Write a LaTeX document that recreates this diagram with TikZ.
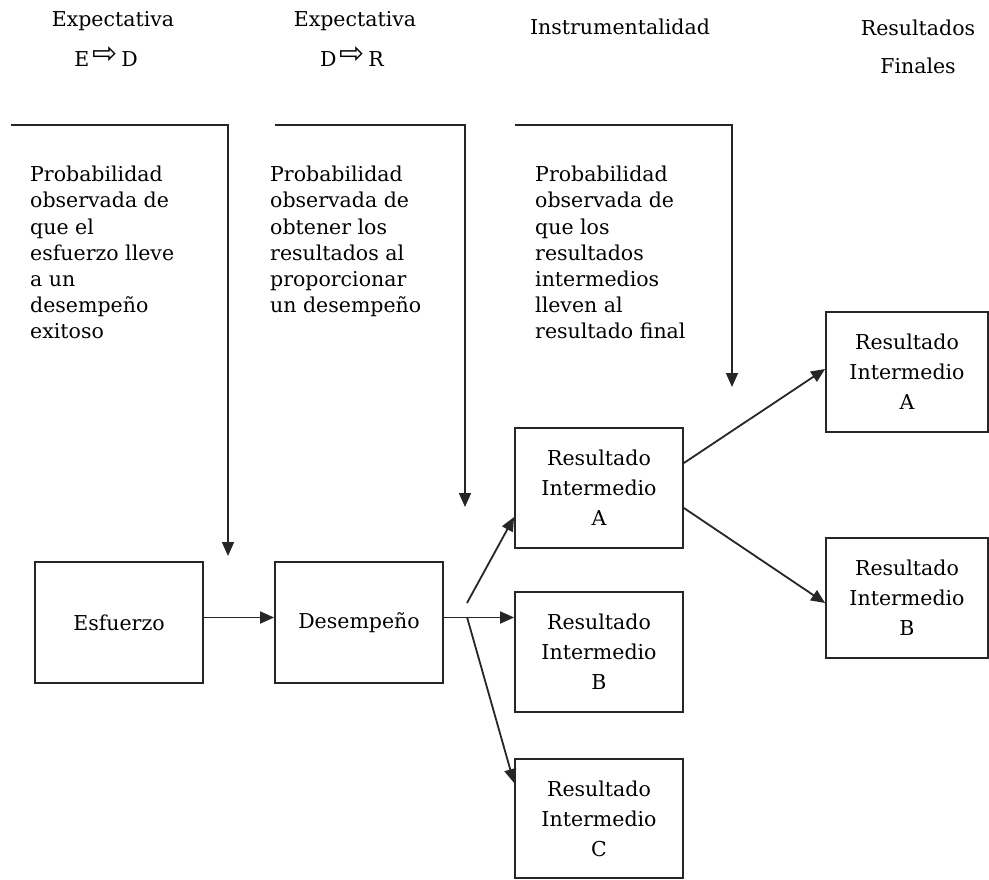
\documentclass[tikz,border=0pt]{standalone}
\usepackage{fontspec}
\setmainfont{DejaVu Serif}
\newfontfamily\symfont{DejaVu Sans}
\usetikzlibrary{arrows.meta}
\definecolor{ink}{gray}{0.15}
\newcommand{\harr}{{\symfont\fontsize{30}{30}\selectfont\raisebox{3pt}{⇨}}}
\begin{document}
\begin{tikzpicture}[x=1pt,y=-1pt,
  every node/.style={font=\fontsize{20.5}{26.2}\selectfont, inner sep=0pt},
  box/.style={draw=ink, line width=1.8pt, minimum width=168pt, minimum height=121pt,
    align=center, font=\fontsize{20.5}{30}\selectfont},
  conn/.style={draw=ink, line width=1.8pt, -{Triangle[length=14pt,width=12pt]}},
  desc/.style={anchor=north west, align=left},
  head/.style={anchor=base, align=center}]
\useasboundingbox (0,0) rectangle (989,880);

% headers
\node[head] (h1a) at (113,27) {Expectativa};
\node[head] (h1b) at (106,67) {E\,\harr\,D};
\node[head] (h2a) at (355,27) {Expectativa};
\node[head] (h2b) at (352,67) {D\,\harr\,R};
\node[head] (h3) at (620,35) {Instrumentalidad};
\node[head] (h4a) at (918,36) {Resultados};
\node[head] (h4b) at (918,74) {Finales};

% descriptions
\node[desc] (t1) at (30,166) {Probabilidad\\observada de\\que el\\esfuerzo lleve\\a un\\desempeño\\exitoso};
\node[desc] (t2) at (270,166) {Probabilidad\\observada de\\obtener los\\resultados al\\proporcionar\\un desempeño};
\node[desc] (t3) at (535,166) {Probabilidad\\observada de\\que los\\resultados\\intermedios\\lleven al\\resultado final};

% brackets
\coordinate (b1s) at (11,125); \coordinate (b1c) at (228,125); \coordinate (b1e) at (228,556);
\coordinate (b2s) at (275,125); \coordinate (b2c) at (465,125); \coordinate (b2e) at (465,507);
\coordinate (b3s) at (515,125); \coordinate (b3c) at (732,125); \coordinate (b3e) at (732,387);
\draw[conn] (b1s) -- (b1c) -- (b1e);
\draw[conn] (b2s) -- (b2c) -- (b2e);
\draw[conn] (b3s) -- (b3c) -- (b3e);

% boxes
\node[box] (esf) at (119,622.5) {Esfuerzo};
\node[box] (des) at (359,622.5) {Desempeño};
\node[box, minimum height=120pt] (mA) at (599,488) {Resultado\\Intermedio\\A};
\node[box, minimum height=120pt] (mB) at (599,652) {Resultado\\Intermedio\\B};
\node[box, minimum height=119pt] (mC) at (599,818.5) {Resultado\\Intermedio\\C};
\node[box, minimum width=162pt, minimum height=120pt] (rA) at (907,372) {Resultado\\Intermedio\\A};
\node[box, minimum width=162pt, minimum height=120pt] (rB) at (907,598) {Resultado\\Intermedio\\B};

% connectors
\draw[conn] ([yshift=5pt]esf.east) -- ([yshift=5pt]des.west);
\coordinate (dout) at ([yshift=5pt]des.east);
\draw[conn] (dout) -- (dout -| mB.west);
\coordinate (s1) at (467,603);
\coordinate (s2) at (467,617);
\draw[conn] (s1) -- ([yshift=-29pt]mA.west);
\draw[conn] (s2) -- ([yshift=35.5pt]mC.west);
\draw[conn] ([yshift=25pt]mA.east) -- ([yshift=3pt]rA.west);
\draw[conn] ([yshift=-20pt]mA.east) -- ([yshift=-5pt]rB.west);
\end{tikzpicture}
\end{document}
